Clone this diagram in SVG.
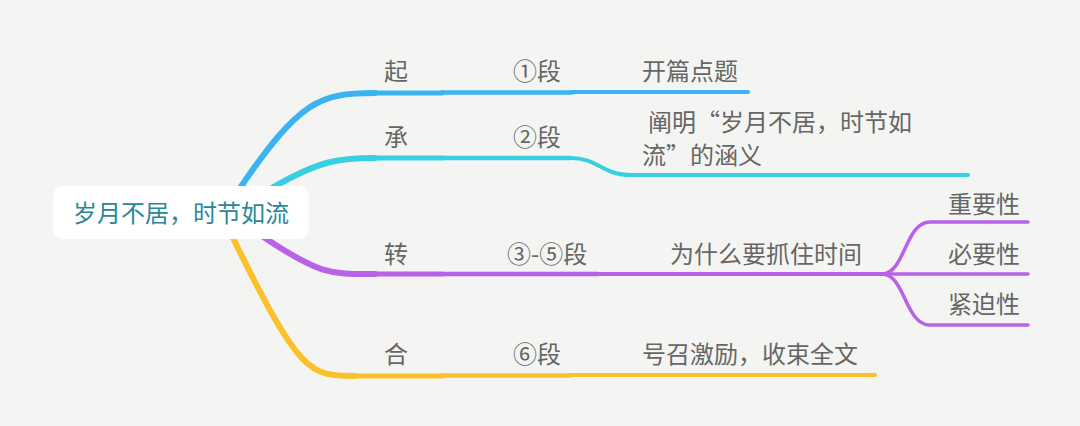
<svg xmlns="http://www.w3.org/2000/svg" width="1080" height="426" viewBox="0 0 1080 426">
<style>
.t{font-family:"Noto Sans CJK SC","Noto Sans",sans-serif;font-size:24px;fill:#666666}
.c{fill:none;stroke-linecap:round;stroke-linejoin:round}
.b{stroke:#3ab4f0}.cy{stroke:#38d0e0}.p{stroke:#b862e8}.y{stroke:#fbc12c}
</style>
<rect width="1080" height="426" fill="#f4f5f3"/>
<g id="connectors">
<path class="c b" stroke-width="6" d="M240,188 C300,100 320,93 375,93"/>
<path class="c b" stroke-width="5" d="M375,93 H442"/>
<path class="c b" stroke-width="4.5" d="M442,92.5 H572"/>
<path class="c b" stroke-width="4" d="M572,92 H748"/>
<path class="c cy" stroke-width="6" d="M272,188 C320,160 340,158 375,158"/>
<path class="c cy" stroke-width="5" d="M375,158 H442"/>
<path class="c cy" stroke-width="4.5" d="M442,158 H570"/>
<path class="c cy" stroke-width="4" d="M570,158 C600,158 600,175 632,175 H968"/>
<path class="c p" stroke-width="6" d="M262,236 C320,275 330,274 375,274"/>
<path class="c p" stroke-width="5" d="M375,274 H442"/>
<path class="c p" stroke-width="4.5" d="M442,274 H598"/>
<path class="c p" stroke-width="4" d="M598,274 H882"/>
<path class="c p" stroke-width="3.5" d="M882,274 C905,274 905,222 930,222 H1028"/>
<path class="c p" stroke-width="3.5" d="M882,274 H1028"/>
<path class="c p" stroke-width="3.5" d="M882,274 C905,274 905,325 930,325 H1028"/>
<path class="c y" stroke-width="6" d="M233,238 C300,375 310,376 355,376"/>
<path class="c y" stroke-width="5" d="M355,376 H442"/>
<path class="c y" stroke-width="4.5" d="M442,375.5 H570"/>
<path class="c y" stroke-width="4" d="M570,375 H875"/>
</g>
<g id="root">
<rect x="53" y="186" width="256" height="53" rx="10" fill="#ffffff"/>
<text x="181" y="222" text-anchor="middle" style="font-family:'Noto Sans CJK SC','Noto Sans',sans-serif;font-size:24px;fill:#2b8797">岁月不居，时节如流</text>
</g>
<g id="n-qi"><text class="t" x="384" y="80">起</text></g>
<g id="n-d1"><text class="t" x="513" y="80">①段</text></g>
<g id="n-kpdt"><text class="t" x="642" y="80">开篇点题</text></g>
<g id="n-cheng"><text class="t" x="384" y="146">承</text></g>
<g id="n-d2"><text class="t" x="513" y="146">②段</text></g>
<g id="n-cm"><text class="t" x="648" y="131">阐明“岁月不居，时节如</text><text class="t" x="642" y="164">流”的涵义</text></g>
<g id="n-zhuan"><text class="t" x="384" y="263">转</text></g>
<g id="n-d35"><text class="t" x="507" y="263">③-⑤段</text></g>
<g id="n-wsm"><text class="t" x="670" y="263">为什么要抓住时间</text></g>
<g id="n-zy"><text class="t" x="948" y="213">重要性</text></g>
<g id="n-by"><text class="t" x="948" y="263">必要性</text></g>
<g id="n-jp"><text class="t" x="948" y="313">紧迫性</text></g>
<g id="n-he"><text class="t" x="384" y="363">合</text></g>
<g id="n-d6"><text class="t" x="513" y="363">⑥段</text></g>
<g id="n-hz"><text class="t" x="642" y="363">号召激励，收束全文</text></g>
</svg>
